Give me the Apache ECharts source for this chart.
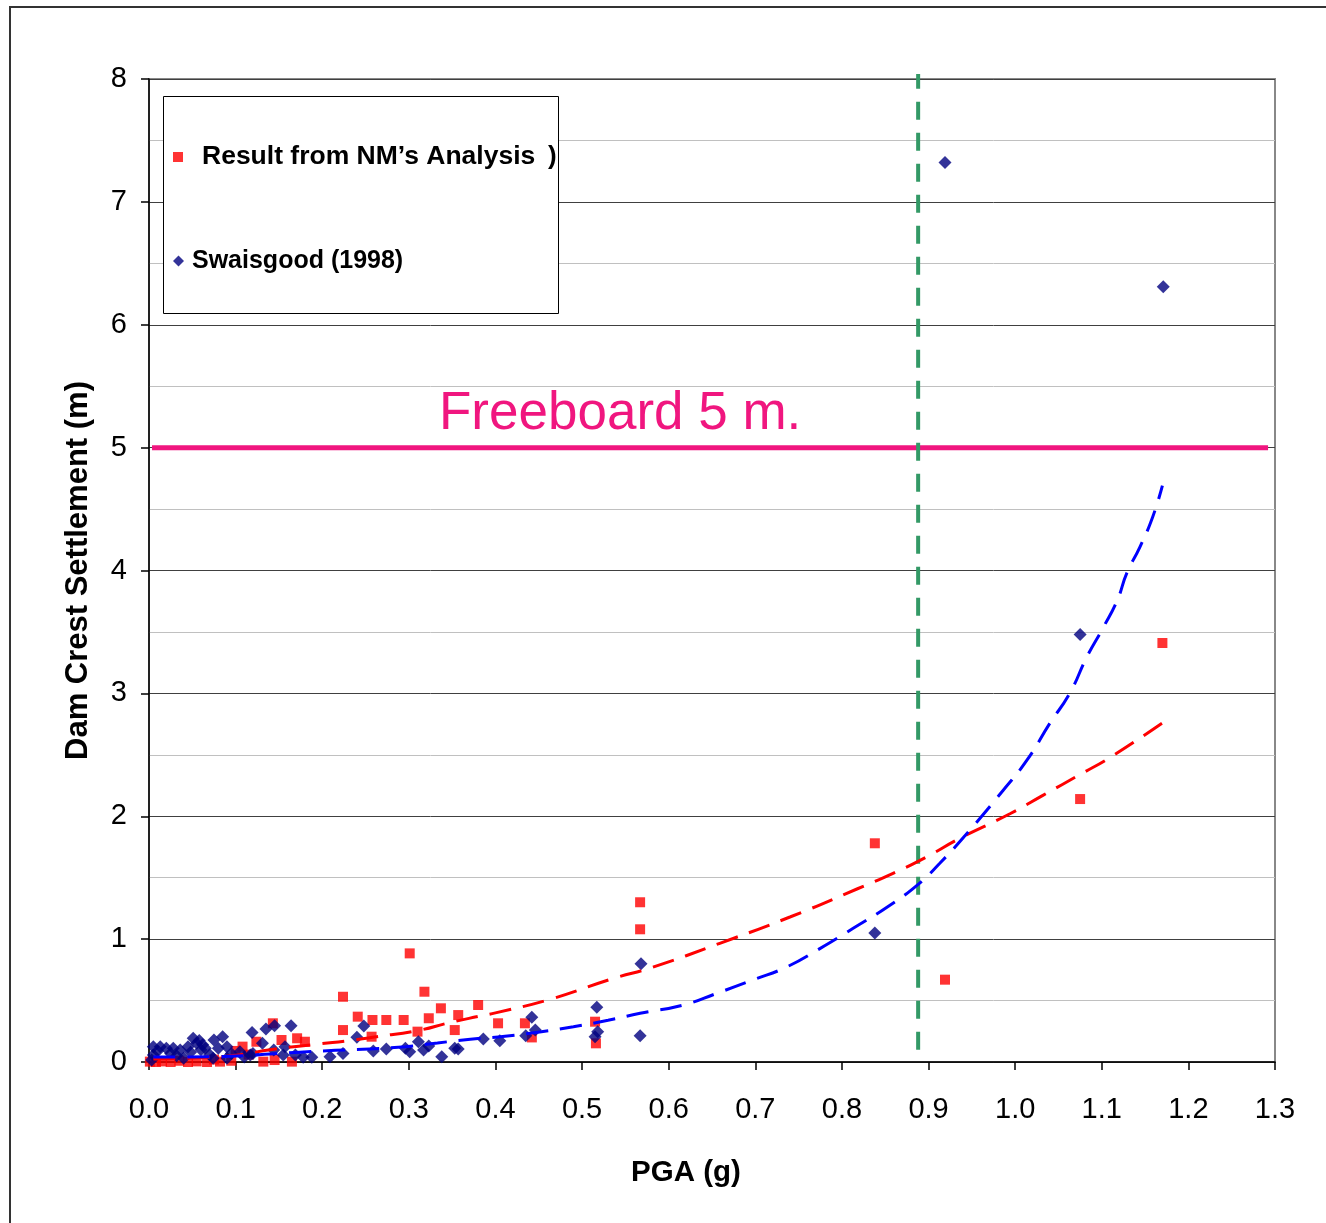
<!DOCTYPE html>
<html>
<head>
<meta charset="utf-8">
<script src="https://cdn.jsdelivr.net/npm/echarts@6/dist/echarts.min.js"></script>
<style>
  html, body { margin: 0; padding: 0; background: #fff; }
  #chart { width: 1326px; height: 1223px; }
</style>
</head>
<body>
<div id="chart"></div>
<script>
// Settlement results from the Newmark (NM) sliding-block analysis: [PGA (g), settlement (m)]
const nmResults = [
  [0.001, 0.003], [0.008, 0.0], [0.015, 0.005], [0.025, 0.0], [0.035, 0.01],
  [0.045, 0.0], [0.055, 0.005], [0.067, 0.0], [0.075, 0.02], [0.082, 0.003],
  [0.095, 0.01], [0.100, 0.09], [0.108, 0.125], [0.115, 0.06], [0.124, 0.165],
  [0.132, 0.003], [0.143, 0.315], [0.145, 0.016], [0.153, 0.179], [0.165, 0.003],
  [0.171, 0.193], [0.180, 0.165], [0.224, 0.531], [0.224, 0.26], [0.241, 0.369],
  [0.257, 0.206], [0.258, 0.342], [0.274, 0.342], [0.294, 0.342], [0.301, 0.884],
  [0.310, 0.247], [0.318, 0.572], [0.323, 0.356], [0.337, 0.437], [0.353, 0.26],
  [0.357, 0.382], [0.380, 0.464], [0.403, 0.315], [0.434, 0.315], [0.442, 0.20],
  [0.515, 0.328], [0.516, 0.152], [0.567, 1.30], [0.567, 1.08], [0.838, 1.78],
  [0.919, 0.67], [1.075, 2.14], [1.170, 3.41]
];

// Case-history data compiled by Swaisgood (1998): [PGA (g), settlement (m)]
const swaisgoodData = [
  [0.003, 0.016], [0.005, 0.057], [0.005, 0.125], [0.010, 0.09], [0.013, 0.125],
  [0.020, 0.111], [0.025, 0.07], [0.028, 0.111], [0.032, 0.05], [0.036, 0.098],
  [0.040, 0.03], [0.045, 0.125], [0.048, 0.08], [0.051, 0.193], [0.055, 0.152],
  [0.058, 0.175], [0.062, 0.14], [0.060, 0.10], [0.065, 0.111], [0.070, 0.06],
  [0.074, 0.03], [0.075, 0.179], [0.080, 0.111], [0.085, 0.206], [0.090, 0.125],
  [0.090, 0.03], [0.095, 0.07], [0.105, 0.084], [0.110, 0.04], [0.117, 0.057],
  [0.119, 0.241], [0.120, 0.07], [0.131, 0.152], [0.135, 0.268], [0.144, 0.098],
  [0.145, 0.295], [0.155, 0.057], [0.157, 0.125], [0.164, 0.295], [0.169, 0.057],
  [0.178, 0.038], [0.188, 0.038], [0.209, 0.043], [0.224, 0.07], [0.240, 0.201],
  [0.248, 0.293], [0.259, 0.09], [0.274, 0.106], [0.296, 0.111], [0.301, 0.084],
  [0.311, 0.165], [0.317, 0.098], [0.323, 0.13], [0.338, 0.043], [0.353, 0.111],
  [0.357, 0.106], [0.386, 0.187], [0.405, 0.173], [0.435, 0.214], [0.442, 0.364],
  [0.446, 0.26], [0.515, 0.206], [0.517, 0.445], [0.518, 0.247], [0.567, 0.214],
  [0.568, 0.80], [0.838, 1.05], [0.919, 7.32], [1.075, 3.48], [1.171, 6.31]
];

// Trend curves fitted through each data set
const nmTrend = [
  [0.005, 0.025], [0.067, 0.038], [0.105, 0.06], [0.14, 0.10], [0.20, 0.15],
  [0.226, 0.17], [0.263, 0.206], [0.313, 0.26], [0.344, 0.315], [0.382, 0.374],
  [0.40, 0.40], [0.463, 0.51], [0.536, 0.68], [0.581, 0.77], [0.659, 0.966],
  [0.740, 1.18], [0.818, 1.41], [0.859, 1.535], [0.898, 1.67], [0.936, 1.82],
  [0.994, 2.02], [1.032, 2.17], [1.075, 2.34], [1.110, 2.48], [1.170, 2.76]
];
const swaisgoodTrend = [
  [0.005, 0.04], [0.068, 0.043], [0.109, 0.051], [0.14, 0.065], [0.174, 0.08],
  [0.215, 0.095], [0.255, 0.106], [0.296, 0.125], [0.333, 0.155], [0.371, 0.185],
  [0.411, 0.21], [0.451, 0.245], [0.490, 0.287], [0.530, 0.34], [0.567, 0.396],
  [0.617, 0.464], [0.656, 0.56], [0.697, 0.667], [0.737, 0.776], [0.775, 0.925],
  [0.813, 1.088], [0.852, 1.26], [0.887, 1.44], [0.913, 1.617], [0.946, 1.874],
  [0.986, 2.21], [1.014, 2.46], [1.040, 2.756], [1.063, 3.0], [1.083, 3.30],
  [1.102, 3.54], [1.118, 3.76], [1.129, 3.98], [1.144, 4.19], [1.159, 4.44],
  [1.170, 4.69]
];

// Freeboard of the dam (m) and the horizontal extent of its reference line (g)
const freeboardLevel = 5;
const freeboardSpan = [0.0035, 1.292];
// Design PGA marker (g) and its vertical extent (m)
const designPGA = 0.888;
const designPGASpan = [0.1, 8.04];

// Axis ranges
const xRange = [0, 1.3, 0.1];
const yRange = [0, 8, 1];

const FONT = '"Liberation Sans", Arial, sans-serif';
const NM_NAME = 'Result from NM\u2019s Analysis';
const SW_NAME = 'Swaisgood (1998)';

const chart = echarts.init(document.getElementById('chart'), null, { renderer: 'canvas' });

chart.setOption({
  backgroundColor: '#ffffff',
  animation: false,
  textStyle: { fontFamily: FONT },
  grid: {
    left: 149, right: 51, top: 79, bottom: 161,
    show: true, borderColor: '#888888', borderWidth: 2, backgroundColor: 'transparent'
  },
  xAxis: {
    type: 'value',
    min: xRange[0], max: xRange[1], interval: xRange[2],
    name: 'PGA (g)',
    nameLocation: 'middle',
    nameGap: 96,
    nameTextStyle: { fontSize: 29.5, fontWeight: 'bold', color: '#000', fontFamily: FONT, padding: [0, 52, 0, 0] },
    axisLine: { show: true, onZero: false, lineStyle: { color: '#000', width: 1.5 } },
    axisTick: { show: true, length: 8, lineStyle: { color: '#000', width: 1.5 } },
    axisLabel: { fontSize: 29, color: '#000', margin: 33, fontFamily: FONT,
                 formatter: v => v.toFixed(1) },
    splitLine: { show: false }
  },
  yAxis: {
    type: 'value',
    min: yRange[0], max: yRange[1], interval: yRange[2],
    name: 'Dam Crest Settlement (m)',
    nameLocation: 'middle',
    nameGap: 55,
    nameTextStyle: { fontSize: 31, fontWeight: 'bold', color: '#000', fontFamily: FONT },
    axisLine: { show: true, onZero: false, lineStyle: { color: '#000', width: 1.5 } },
    axisTick: { show: true, length: 8, lineStyle: { color: '#000', width: 1.5 } },
    axisLabel: { fontSize: 29, color: '#000', margin: 22, fontFamily: FONT },
    splitLine: { show: true, lineStyle: { color: '#404040', width: 1 } },
    minorTick: { show: false, splitNumber: 2 },
    minorSplitLine: { show: true, lineStyle: { color: '#c0c0c0', width: 1 } }
  },
  legend: [
    {
      z: 20, left: 168, top: 138, orient: 'vertical',
      data: [{ name: NM_NAME, icon: 'rect' }],
      itemWidth: 10, itemHeight: 10,
      selectedMode: false,
      textStyle: { fontSize: 26.5, fontWeight: 'bold', color: '#000', fontFamily: FONT,
                   lineHeight: 28, padding: [0, 0, 0, 14] }
    },
    {
      z: 20, left: 168, top: 242, orient: 'vertical',
      data: [{ name: SW_NAME, icon: 'diamond' }],
      itemWidth: 11, itemHeight: 11,
      selectedMode: false,
      textStyle: { fontSize: 25, fontWeight: 'bold', color: '#000', fontFamily: FONT,
                   lineHeight: 28, padding: [0, 0, 0, 3] }
    }
  ],
  graphic: [
    { type: 'rect', z: 10, silent: true,
      shape: { x: 10, y: 7, width: 1400, height: 1300 },
      style: { fill: 'none', stroke: '#333333', lineWidth: 2 } },
    { type: 'rect', z: 10, silent: true,
      shape: { x: 163.5, y: 96.5, width: 395, height: 217 },
      style: { fill: '#ffffff', stroke: '#000000', lineWidth: 1 } },
    { type: 'text', z: 11, silent: true, x: 548, y: 157,
      style: { text: ')', font: 'bold 26px ' + FONT, fill: '#000', verticalAlign: 'middle' } },
    { type: 'text', z: 11, silent: true, x: 439, y: 414,
      style: { text: 'Freeboard 5 m.', font: '53px ' + FONT, fill: '#f0167f', verticalAlign: 'middle' } }
  ],
  series: [
    {
      name: 'Freeboard',
      type: 'line',
      data: freeboardSpan.map(x => [x, freeboardLevel]),
      showSymbol: false, silent: true, z: 2,
      lineStyle: { color: '#f0167f', width: 5 }
    },
    {
      name: 'Design PGA',
      type: 'line',
      data: designPGASpan.map(y => [designPGA, y]),
      showSymbol: false, silent: true, clip: false, z: 2,
      lineStyle: { color: '#339966', width: 4, type: [18, 13] }
    },
    {
      name: NM_NAME,
      type: 'scatter',
      data: nmResults,
      symbol: 'rect', symbolSize: 10, z: 3,
      itemStyle: { color: '#ff0000' }
    },
    {
      name: SW_NAME,
      type: 'scatter',
      data: swaisgoodData,
      symbol: 'diamond', symbolSize: 13, z: 3,
      itemStyle: { color: '#000080' }
    },
    {
      name: 'NM trend',
      type: 'line',
      data: nmTrend,
      showSymbol: false, silent: true, smooth: true, z: 4,
      lineStyle: { color: '#ff0000', width: 3, type: [22, 12] }
    },
    {
      name: 'Swaisgood trend',
      type: 'line',
      data: swaisgoodTrend,
      showSymbol: false, silent: true, smooth: true, z: 4,
      lineStyle: { color: '#0000ff', width: 3, type: [22, 12] }
    }
  ]
});
</script>
</body>
</html>
